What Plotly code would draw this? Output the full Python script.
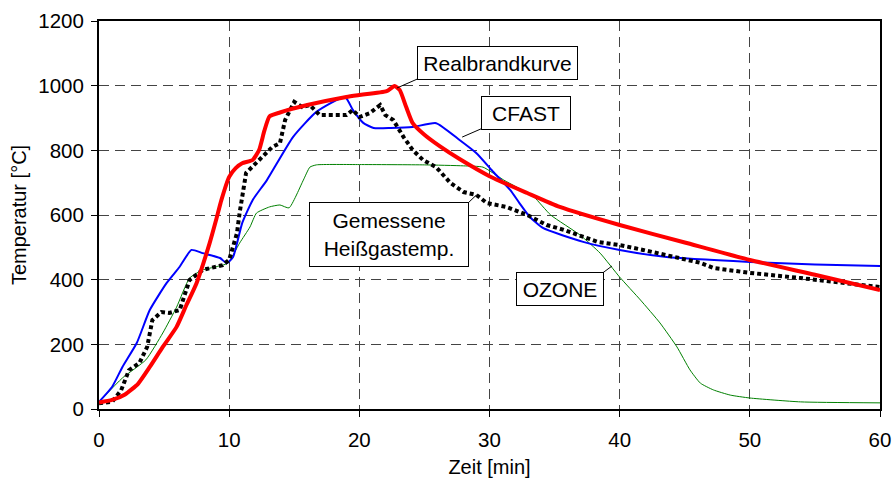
import plotly.graph_objects as go

# Realbrandkurve (red)
red_t = [0, 1, 2, 3, 3.9, 4.9, 5.96, 6.7, 7.5, 8.5, 9.0, 9.4, 10.0, 10.5, 11.0, 11.8, 12.3, 12.7, 13.1, 13.9, 16, 19.0, 20, 22.1, 22.7, 23.1, 23.6, 24.1, 25.0, 26.2, 27.7, 30, 32.9, 35.4, 40, 45, 50, 55, 60]
red_y = [20, 28, 45, 78, 130, 192, 254, 320, 390, 513, 585, 646, 718, 745, 760, 770, 801, 860, 905, 917, 940, 965, 971, 983, 999, 987, 934, 884, 848, 812, 773, 720, 668, 625, 569, 515, 461, 415, 368]

# Gemessene Heißgastemperatur (black dotted)
mes_t = [0, 1.0, 1.7, 2.3, 3.1, 3.7, 4.1, 4.8, 5.4, 6.2, 6.96, 7.96, 9.5, 10.0, 10.6, 10.8, 11.3, 12.3, 13.3, 13.9, 14.3, 15.0, 15.6, 16.2, 16.96, 18.3, 19.0, 19.5, 20.0, 20.8, 21.6, 22.0, 22.6, 23.4, 24.1, 24.9, 25.9, 27.0, 28.0, 29.0, 29.8, 31.3, 32.9, 34.4, 35.7, 38.3, 40, 41.8, 43.6, 46.2, 47.2, 50, 53.9, 57, 60]
mes_y = [18, 22, 58, 120, 142, 192, 275, 300, 297, 306, 399, 430, 445, 461, 544, 606, 730, 770, 810, 822, 894, 950, 934, 940, 909, 909, 909, 925, 903, 915, 940, 909, 894, 841, 801, 770, 748, 699, 671, 662, 637, 625, 600, 569, 554, 517, 507, 492, 476, 452, 436, 421, 405, 390, 377]

# CFAST (blue)
cf_t = [0, 1.0, 1.8, 2.9, 3.9, 5.2, 6.2, 7.1, 7.96, 9.3, 9.8, 10.3, 11.0, 11.8, 12.9, 14.9, 16.7, 18.9, 19.5, 20.3, 21.1, 22.4, 24.1, 25.9, 27.7, 29.0, 30.3, 31.6, 32.3, 33.1, 34.1, 37.2, 40, 43.6, 50, 55, 60]
cf_y = [22, 68, 130, 204, 306, 390, 440, 492, 482, 467, 451, 470, 575, 646, 708, 841, 919, 965, 925, 885, 869, 869, 872, 884, 832, 791, 733, 677, 637, 594, 560, 517, 492, 470, 455, 447, 442]

# OZONE (green)
oz_t = [0, 1.8, 3.6, 4.9, 5.96, 6.96, 7.96, 9.0, 9.9, 10.8, 11.6, 12.1, 13.1, 13.9, 14.6, 15.7, 16.2, 16.7, 20, 25, 28, 29.5, 31.1, 33.4, 34.7, 36.96, 38.5, 40, 41.6, 43.1, 44.4, 45.4, 46.2, 47.2, 48.5, 50, 53.9, 60]
oz_y = [22, 96, 152, 235, 315, 405, 430, 440, 451, 513, 563, 606, 625, 631, 622, 708, 748, 755, 756, 755, 752, 748, 708, 656, 600, 538, 482, 408, 337, 266, 192, 121, 80, 59, 43, 34, 22, 19]

x_ticks = [0, 10, 20, 30, 40, 50, 60]
y_ticks = [0, 200, 400, 600, 800, 1000, 1200]

FONT = "Liberation Sans, Arial, sans-serif"

fig = go.Figure()
fig.add_trace(go.Scatter(x=oz_t, y=oz_y, mode="lines", name="OZONE",
                         line=dict(color="#008000", width=1, shape="spline", smoothing=0.5)))
fig.add_trace(go.Scatter(x=cf_t, y=cf_y, mode="lines", name="CFAST",
                         line=dict(color="#0000ff", width=2, shape="spline", smoothing=0.5)))
fig.add_trace(go.Scatter(x=mes_t, y=mes_y, mode="lines", name="Gemessene Heißgastemp.",
                         line=dict(color="#000000", width=4, dash="4px,3px")))
fig.add_trace(go.Scatter(x=red_t, y=red_y, mode="lines", name="Realbrandkurve",
                         line=dict(color="#ff0000", width=4, shape="spline", smoothing=0.5)))

# labels: (text, box centre x, y, leader start x, y, leader end x, y, width, height)
labels = [
    ("Realbrandkurve", 30.6, 1070, 24.65, 1024, 22.9, 993, 157, 30),
    ("CFAST", 32.8, 915, 29.5, 869, 27.9, 841, 86, 30),
    ("Gemessene<br>Heißgastemp.", 22.3, 540, 28.35, 637, 29.0, 662, 156, 61),
    ("OZONE", 35.4, 371, 38.7, 421, 39.4, 442, 84, 30),
]
for txt, bx, by, lx0, ly0, lx1, ly1, w, h in labels:
    fig.add_shape(type="line", x0=lx0, y0=ly0, x1=lx1, y1=ly1, xref="x", yref="y",
                  line=dict(color="black", width=1))
    fig.add_annotation(x=bx, y=by, xref="x", yref="y", text=txt, showarrow=False,
                       font=dict(family=FONT, size=21, color="black"),
                       bgcolor="white", bordercolor="black", borderwidth=1,
                       width=w, height=h, align="center", valign="middle")

axis_common = dict(
    showline=True, linecolor="black", linewidth=2, mirror=True,
    ticks="outside", ticklen=6, tickcolor="black", tickwidth=1,
    showgrid=True, gridcolor="#444444", gridwidth=1, griddash="10px,6px",
    zeroline=False, automargin=False,
    tickfont=dict(family=FONT, size=20.5, color="black"),
)

fig.update_xaxes(range=[0, 60], tickvals=x_ticks, ticktext=[str(v) for v in x_ticks],
                 ticklabelstandoff=5,
                 title=dict(text="Zeit [min]", font=dict(family=FONT, size=20, color="black"), standoff=10),
                 **axis_common)
fig.update_yaxes(range=[0, 1200], tickvals=y_ticks, ticktext=[str(v) for v in y_ticks],
                 ticklabelstandoff=3,
                 title=dict(text="Temperatur [°C]", font=dict(family=FONT, size=20, color="black"), standoff=6),
                 **axis_common)

fig.update_layout(
    width=894, height=483,
    margin=dict(l=99, r=14, t=21, b=74),
    paper_bgcolor="white", plot_bgcolor="white",
    showlegend=False,
    font=dict(family=FONT, color="black"),
)

fig.write_html("out.html")
